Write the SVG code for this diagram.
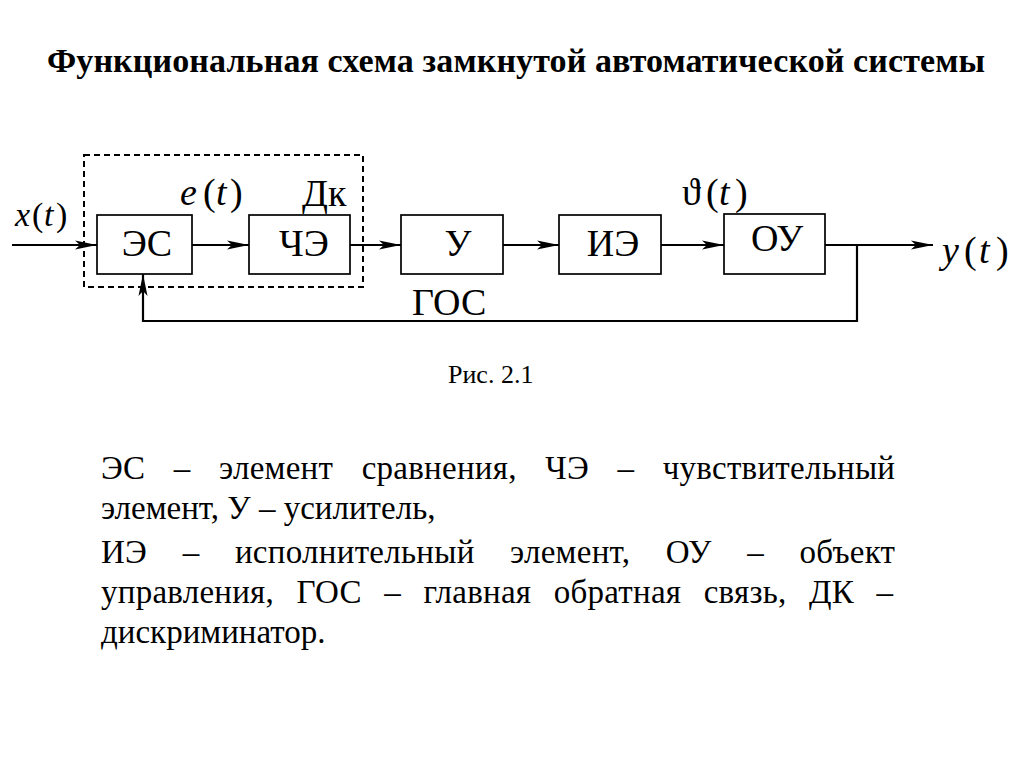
<svg xmlns="http://www.w3.org/2000/svg" width="1024" height="767" viewBox="0 0 1024 767">
<style>
.t{font-family:"Liberation Serif","Times New Roman",serif;fill:#000}
.box{fill:#fff;stroke:#000;stroke-width:1.7}
.lbl{font-size:38px;text-anchor:middle}
.it{font-style:italic}
.ln{fill:none;stroke:#000;stroke-width:2.2}
.p{font-size:33px}
</style>
<defs>
<marker id="ah" markerUnits="userSpaceOnUse" markerWidth="22" markerHeight="10" refX="22" refY="5" orient="auto">
<path d="M0,0.5 L22,5 L0,9.5 L5,5 z" fill="#000"/>
</marker>
</defs>
<rect width="1024" height="767" fill="#fff"/>
<text class="t" x="47" y="72" font-size="34" font-weight="bold" textLength="938" lengthAdjust="spacing">Функциональная схема замкнутой автоматической системы</text>

<g id="dk">
<rect x="84" y="155" width="279" height="132" fill="none" stroke="#000" stroke-width="2" stroke-dasharray="6 4"/>
<text class="t" x="302" y="206" font-size="38">Дк</text>
</g>

<g id="connectors">
<path class="ln" d="M12,245 H97" marker-end="url(#ah)"/>
<path class="ln" d="M192,245 H249" marker-end="url(#ah)"/>
<path class="ln" d="M350,245 H401" marker-end="url(#ah)"/>
<path class="ln" d="M503,245 H559" marker-end="url(#ah)"/>
<path class="ln" d="M661,245 H724" marker-end="url(#ah)"/>
<path class="ln" d="M825,245 H933" marker-end="url(#ah)"/>
<path class="ln" d="M857,245 V321 H143 V274" marker-end="url(#ah)"/>
</g>

<g id="es"><rect class="box" x="97" y="215" width="95" height="59"/><text class="t lbl" x="147" y="256">ЭС</text></g>
<g id="che"><rect class="box" x="249" y="215" width="101" height="59"/><text class="t lbl" x="304" y="256">ЧЭ</text></g>
<g id="u"><rect class="box" x="401" y="215" width="102" height="59"/><text class="t lbl" x="458" y="256">У</text></g>
<g id="ie"><rect class="box" x="559" y="215" width="102" height="59"/><text class="t lbl" x="613" y="256">ИЭ</text></g>
<g id="ou"><rect class="box" x="724" y="214" width="101" height="60"/><text class="t lbl" x="777" y="251">ОУ</text></g>

<g id="labels">
<text class="t" font-size="34" y="226"><tspan class="it" x="15">x</tspan><tspan x="32">(</tspan><tspan class="it" x="44">t</tspan><tspan x="56">)</tspan></text>
<text class="t" font-size="38" y="205"><tspan class="it" x="180">e</tspan><tspan x="203">(</tspan><tspan class="it" x="216">t</tspan><tspan x="230">)</tspan></text>
<text class="t" font-size="38" y="205"><tspan x="682">ϑ</tspan><tspan x="706">(</tspan><tspan class="it" x="719">t</tspan><tspan x="735">)</tspan></text>
<text class="t" font-size="38" y="263"><tspan class="it" x="942">y</tspan><tspan x="964">(</tspan><tspan class="it" x="979">t</tspan><tspan x="996">)</tspan></text>
<text class="t" font-size="38" x="412" y="315">ГОС</text>
</g>

<text class="t" x="448" y="383" font-size="26">Рис. 2.1</text>

<g id="legend">
<text class="t p" x="101" y="479" style="word-spacing:20px" textLength="794" lengthAdjust="spacing">ЭС – элемент сравнения, ЧЭ – чувствительный</text>
<text class="t p" x="101" y="519">элемент, У – усилитель,</text>
<text class="t p" x="101" y="563" style="word-spacing:27px" textLength="794" lengthAdjust="spacing">ИЭ – исполнительный элемент, ОУ – объект</text>
<text class="t p" x="101" y="603" style="word-spacing:14px" textLength="792" lengthAdjust="spacing">управления, ГОС – главная обратная связь, ДК –</text>
<text class="t p" x="101" y="643">дискриминатор.</text>
</g>
</svg>
